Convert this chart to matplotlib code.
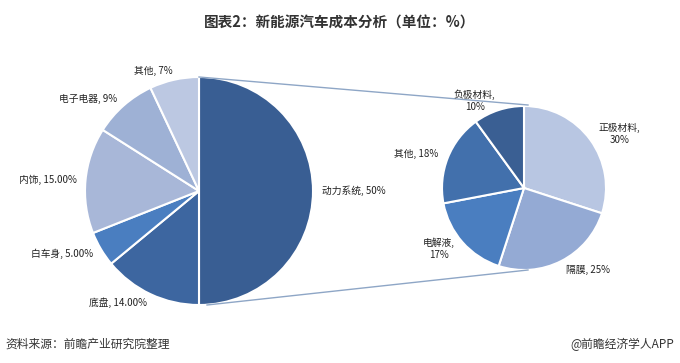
import matplotlib
matplotlib.use("Agg")
import matplotlib.pyplot as plt

plt.rcParams['font.family'] = ['Noto Sans CJK SC', 'DejaVu Sans']

# Left pie: vehicle cost breakdown
left_names = ["动力系统", "底盘", "白车身", "内饰", "电子电器", "其他"]
left_values = [50, 14, 5, 15, 9, 7]
left_pct_text = ["50%", "14.00%", "5.00%", "15.00%", "9%", "7%"]
left_colors = ["#395E93", "#3D66A0", "#4A7EC0", "#A8B7D8", "#9EB1D5", "#BCC8E2"]

# Right pie: battery cost breakdown
right_names = ["正极材料", "隔膜", "电解液", "其他", "负极材料"]
right_values = [30, 25, 17, 18, 10]
right_pct_text = ["30%", "25%", "17%", "18%", "10%"]
right_seps = [",\n", ", ", ",\n", ", ", ",\n"]
right_colors = ["#B8C6E2", "#94AAD4", "#4A7EC0", "#4270AC", "#3A5F93"]

W, H = 680, 363
fig = plt.figure(figsize=(W / 100, H / 100), dpi=100)
ax = fig.add_axes([0, 0, 1, 1])

lc = (199, H - 191)
lr = 114
rc = (524, H - 188)
rr = 82

left_labels = [f"{n}, {p}" for n, p in zip(left_names, left_pct_text)]
right_labels = [f"{n}{s}{p}" for n, s, p in zip(right_names, right_seps, right_pct_text)]

wl, tl = ax.pie(left_values, labels=left_labels, colors=left_colors, startangle=90,
                counterclock=False, center=lc, radius=lr, labeldistance=1.08,
                wedgeprops=dict(edgecolor="white", linewidth=1.5),
                textprops=dict(fontsize=7, color="#222222"))
wr, tr = ax.pie(right_values, labels=right_labels, colors=right_colors, startangle=90,
                counterclock=False, center=rc, radius=rr, labeldistance=1.12,
                wedgeprops=dict(edgecolor="white", linewidth=1.5),
                textprops=dict(fontsize=7, color="#222222", linespacing=1.3))


def fix_align(texts, center):
    for t in texts:
        x, _ = t.get_position()
        t.set_horizontalalignment("left" if x > center[0] else "right")
        t.set_multialignment("center")


fix_align(tl, lc)
fix_align(tr, rc)

# connector lines
ax.plot([199, 528], [H - 77, H - 105], color="#8EA6C6", lw=1)
ax.plot([207, 528], [H - 305, H - 270], color="#8EA6C6", lw=1)

ax.set_xlim(0, W)
ax.set_ylim(0, H)
ax.set_aspect("equal")
ax.axis("off")

fig.text(0.5, 1 - 23 / H, "图表2：新能源汽车成本分析（单位：%）", ha="center", va="center",
         fontsize=10.5, fontweight="bold", color="#333333")
fig.text(5 / W, 1 - 344 / H, "资料来源：前瞻产业研究院整理", ha="left", va="center",
         fontsize=8.5, style="italic", color="#333333")
fig.text(674 / W, 1 - 344 / H, "@前瞻经济学人APP", ha="right", va="center",
         fontsize=8.5, color="#333333")

fig.savefig("out.png", dpi=100)
